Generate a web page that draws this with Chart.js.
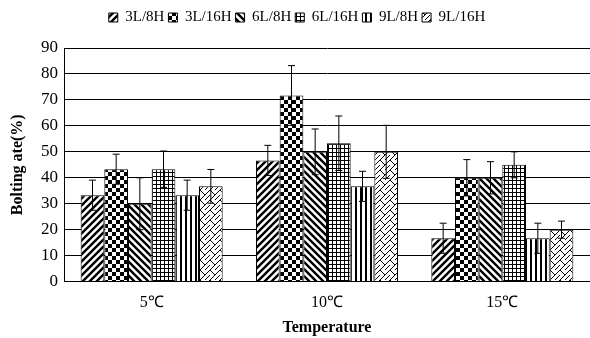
<!DOCTYPE html>
<html lang="en">
<head>
  <meta charset="UTF-8">
  <title>Bolting rate by temperature</title>
  <script src="https://cdn.jsdelivr.net/npm/chart.js"></script>
  <style>
    body { margin: 0; background: white; }
    #wrap { width: 590px; height: 338px; }
  </style>
</head>
<body>
  <div id="wrap"><canvas id="barChart" width="590" height="338"></canvas></div>

  <script>
    // categories and series
    const temperaturas = ['5\u2103', '10\u2103', '15\u2103'];
    const series = ['3L/8H', '3L/16H', '6L/8H', '6L/16H', '9L/8H', '9L/16H'];

    const v3L8H  = [33.3, 46.7, 16.7];
    const v3L16H = [43.3, 71.7, 40.0];
    const v6L8H  = [30.0, 50.0, 40.0];
    const v6L16H = [43.3, 53.3, 45.0];
    const v9L8H  = [33.3, 36.7, 16.7];
    const v9L16H = [36.7, 50.0, 20.0];

    // error (±)
    const e3L8H  = [5.8, 5.8, 5.8];
    const e3L16H = [5.8, 11.5, 7.0];
    const e6L8H  = [10.0, 8.8, 6.2];
    const e6L16H = [7.0, 10.5, 5.0];
    const e9L8H  = [5.8, 5.8, 5.8];
    const e9L16H = [6.5, 10.2, 3.3];

    const yTicks = [0, 10, 20, 30, 40, 50, 60, 70, 80, 90];

    // hatch patterns
    function padrao(size, desenha) {
      const c = document.createElement('canvas');
      c.width = size; c.height = size;
      const g = c.getContext('2d');
      g.fillStyle = 'white';
      g.fillRect(0, 0, size, size);
      g.strokeStyle = 'black';
      g.fillStyle = 'black';
      desenha(g, size);
      return document.createElement('canvas').getContext('2d').createPattern(c, 'repeat');
    }

    const pDiagDir = padrao(7, (g, s) => {
      g.lineWidth = 2.4;
      g.beginPath();
      g.moveTo(-1, s + 1); g.lineTo(s + 1, -1);
      g.moveTo(-1, 1); g.lineTo(1, -1);
      g.moveTo(s - 1, s + 1); g.lineTo(s + 1, s - 1);
      g.stroke();
    });
    const pXadrez = padrao(8, (g, s) => {
      g.fillRect(0, 0, 4, 4);
      g.fillRect(4, 4, 4, 4);
    });
    const pDiagEsq = padrao(7, (g, s) => {
      g.lineWidth = 2.4;
      g.beginPath();
      g.moveTo(-1, -1); g.lineTo(s + 1, s + 1);
      g.moveTo(s - 1, -1); g.lineTo(s + 1, 1);
      g.moveTo(-1, s - 1); g.lineTo(1, s + 1);
      g.stroke();
    });
    const pGrade = padrao(4, (g, s) => {
      g.fillRect(0, 0, s, 1);
      g.fillRect(0, 0, 1, s);
    });
    const pVertical = padrao(5, (g, s) => {
      g.fillRect(0, 0, 2, s);
    });
    const pZigue = padrao(10, (g, s) => {
      g.lineWidth = 1;
      g.beginPath();
      g.moveTo(0, s); g.lineTo(s, 0);
      g.moveTo(0, 0); g.lineTo(s / 2, s / 2);
      g.moveTo(s / 2, s); g.lineTo(s, s / 2);
      g.stroke();
    });

    const valores = [v3L8H, v3L16H, v6L8H, v6L16H, v9L8H, v9L16H];
    const erros = [e3L8H, e3L16H, e6L8H, e6L16H, e9L8H, e9L16H];
    const padroes = [pDiagDir, pXadrez, pDiagEsq, pGrade, pVertical, pZigue];

    const datasets = series.map((nome, i) => ({
      label: nome,
      data: valores[i],
      erros: erros[i],
      backgroundColor: padroes[i],
      borderColor: 'black',
      borderWidth: 1,
      categoryPercentage: 0.81,
      barPercentage: 1.0
    }));

    // error bars drawn through the y scale
    const barrasErro = {
      id: 'barrasErro',
      afterDatasetsDraw(chart) {
        const ctx = chart.ctx;
        const y = chart.scales.y;
        ctx.save();
        ctx.strokeStyle = 'black';
        ctx.lineWidth = 1;
        chart.data.datasets.forEach((ds, i) => {
          const meta = chart.getDatasetMeta(i);
          meta.data.forEach((bar, j) => {
            const v = ds.data[j], e = ds.erros[j];
            const yt = y.getPixelForValue(v + e);
            const yb = y.getPixelForValue(v - e);
            ctx.beginPath();
            ctx.moveTo(bar.x, yt); ctx.lineTo(bar.x, yb);
            ctx.moveTo(bar.x - 3.5, yt); ctx.lineTo(bar.x + 3.5, yt);
            ctx.moveTo(bar.x - 3.5, yb); ctx.lineTo(bar.x + 3.5, yb);
            ctx.stroke();
          });
        });
        ctx.restore();
      }
    };

    // extra room under the legend
    const espacoLegenda = {
      id: 'espacoLegenda',
      beforeInit(chart) {
        const fitOriginal = chart.legend.fit;
        chart.legend.fit = function () {
          fitOriginal.bind(chart.legend)();
          this.height += 13;
        };
      }
    };

    const fonte = "'Liberation Serif', 'Times New Roman', serif";

    new Chart(document.getElementById('barChart'), {
      type: 'bar',
      data: { labels: temperaturas, datasets: datasets },
      plugins: [barrasErro, espacoLegenda],
      options: {
        responsive: false,
        animation: false,
        layout: { padding: { left: 4, right: 0, top: 6, bottom: 0 } },
        plugins: {
          legend: {
            position: 'top',
            labels: {
              boxWidth: 9,
              boxHeight: 9,
              padding: 4,
              color: 'black',
              font: { family: fonte, size: 15 }
            }
          },
          tooltip: { enabled: false }
        },
        scales: {
          x: {
            grid: { display: false },
            border: { display: true, color: 'black' },
            ticks: { color: 'black', font: { family: fonte, size: 16 }, padding: 4 },
            title: { display: true, text: 'Temperature', color: 'black', font: { family: fonte, size: 16, weight: 'bold' }, padding: { top: 1, bottom: 1 } }
          },
          y: {
            min: 0,
            max: 90,
            afterBuildTicks: axis => { axis.ticks = yTicks.map(v => ({ value: v })); },
            afterFit: axis => { axis.width = 60; },
            grid: { color: 'black', drawTicks: false },
            border: { display: true, color: 'black' },
            ticks: { color: 'black', font: { family: fonte, size: 17 }, padding: 6 },
            title: { display: true, text: 'Bolting ate(%)', color: 'black', font: { family: fonte, size: 16, weight: 'bold' }, padding: { bottom: 2 } }
          }
        }
      }
    });
  </script>
</body>
</html>
